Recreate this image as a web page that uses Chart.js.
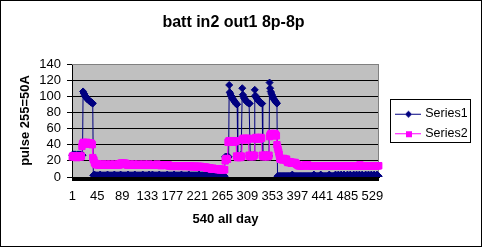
<!DOCTYPE html>
<html>
<head>
<meta charset="utf-8">
<script src="https://cdn.jsdelivr.net/npm/chart.js@4.4.1/dist/chart.umd.min.js"></script>
<style>
  html, body { margin: 0; padding: 0; background: #fff; }
  canvas { display: block; }
</style>
</head>
<body>
<canvas id="chart" width="482" height="247"></canvas>
<script>
// 540 samples over the day
const series1 = [
  // 1-19
  27,28,28,27,27,28,27,27,26,27,28,27,27,28,27,27,28,27,27,
  // 20-37 first pulse
  106,104,103,101,100,99,98,97,96,96,95,94,94,93,93,92,92,91,
  // 38-269 idle
  2,2,3,2,2,2,2,2,2,2,2,2,3,2,2,2,2,2,2,2,
  2,2,2,2,2,3,2,2,2,2,2,2,2,2,2,2,2,3,2,2,
  2,2,2,2,2,2,2,2,3,2,2,2,2,2,2,2,2,2,2,2,
  2,3,2,2,2,2,2,2,2,2,2,2,2,3,2,2,2,2,2,2,
  2,2,2,2,2,2,2,3,2,2,2,2,2,2,2,2,2,2,3,2,
  2,2,2,2,3,2,2,2,2,2,2,2,2,2,2,2,3,2,2,2,
  2,2,2,2,2,2,2,2,2,2,3,2,2,2,2,2,2,2,2,2,
  2,2,3,2,2,2,2,2,2,2,2,2,2,2,2,3,2,2,2,2,
  2,2,2,2,2,2,2,2,3,2,2,2,2,2,2,2,2,2,2,2,
  2,2,2,2,2,2,3,2,2,2,2,2,2,2,2,2,2,2,2,2,
  2,2,2,2,2,2,2,2,2,2,2,2,3,2,2,2,2,2,2,2,
  2,2,2,2,2,1,1,1,1,1,1,1,
  // 270-276
  25,24,25,24,25,24,25,
  // 277-361 evening pulses
  114,105,103,101,100,98,97,96,95,94,93,92,91,90,90,
  27,26,26,25,26,27,26,26,
  110,102,100,98,97,96,95,94,93,93,92,92,91,91,
  26,27,26,25,26,26,27,26,
  108,101,99,98,97,96,95,94,93,93,92,92,91,91,
  27,26,26,27,26,25,26,27,26,26,27,26,
  117,110,106,104,102,100,99,97,96,95,94,93,92,91,
  // 362-540 idle
  1,1,1,1,1,1,1,1,1,1,1,1,1,1,1,1,1,1,1,1,
  1,1,1,1,1,1,3,1,1,1,1,1,1,1,1,1,1,1,1,1,
  1,1,1,1,1,1,1,1,1,1,1,1,1,1,1,1,1,1,1,1,
  1,1,1,1,3,1,1,1,1,1,1,1,1,1,1,1,3,1,1,1,
  1,1,1,1,1,1,1,1,1,1,1,3,1,1,1,1,1,1,1,1,
  1,1,3,1,1,1,1,3,1,1,1,1,3,1,1,1,1,3,1,1,
  1,1,1,3,1,1,1,1,3,1,1,1,1,1,3,1,1,1,1,3,
  1,1,1,1,3,1,1,1,1,3,1,1,1,1,1,3,1,1,1,1,
  3,1,1,1,1,3,1,1,1,1,3,1,1,1,1,3,1,1,1
];

const series2 = [
  // 1-17
  25,26,26,25,25,26,25,25,24,25,26,25,25,26,25,25,26,
  // 18-44
  38,41,
  42,43,42,42,41,42,43,42,41,42,42,41,42,41,42,41,40,
  24,22,21,
  18,17,16,16,15,
  // 45-172
  16,16,15,15,15,16,15,15,15,15,16,15,15,15,15,15,16,15,15,15,
  15,15,15,16,15,15,15,15,15,15,16,15,15,15,15,15,15,16,15,15,
  16,17,17,17,17,16,17,17,17,16,17,16,15,15,15,15,15,15,16,15,
  15,15,15,15,16,15,15,15,15,15,15,15,16,15,15,15,15,15,15,15,
  15,15,16,15,15,15,15,15,15,15,15,16,15,15,15,15,15,15,15,15,
  15,15,15,15,15,16,15,15,15,15,15,15,14,15,15,15,15,15,15,15,
  15,15,15,15,14,15,14,14,
  // 173-240
  14,14,14,14,13,14,14,14,14,14,14,13,14,14,14,14,14,14,14,13,
  14,14,14,14,14,13,14,14,14,13,14,14,14,14,13,14,13,13,13,13,
  13,13,13,13,13,13,13,12,13,13,13,13,12,13,13,12,12,12,12,12,
  12,12,12,12,11,12,11,11,
  // 241-269
  11,11,11,11,10,10,10,11,10,10,10,10,10,10,10,10,9,10,10,9,
  9,9,10,9,9,9,9,9,9,
  // 270-365
  20,22,23,22,22,
  43,44,45,44,44,43,44,45,44,44,43,44,44,45,44,
  26,25,24,25,26,25,24,25,26,25,
  46,47,48,47,46,47,48,47,47,46,47,48,
  27,26,25,26,27,26,25,26,26,27,
  47,48,49,48,48,47,48,49,48,47,48,49,48,
  27,26,25,26,27,26,25,26,27,26,25,26,27,
  50,52,53,54,53,52,51,52,53,54,53,52,51,
  40,37,34,31,28,
  // 366-400
  23,22,22,23,22,21,22,23,22,22,21,22,22,
  19,18,19,18,18,19,18,17,18,18,17,18,17,17,18,17,16,
  16,15,15,14,14,
  // 401-540
  14,14,14,14,14,14,14,14,14,14,15,15,15,15,15,14,14,14,14,14,
  14,14,14,14,14,14,14,14,14,14,14,14,14,14,14,14,14,14,14,14,
  14,14,14,14,14,14,14,14,14,14,14,14,14,14,14,14,14,14,14,14,
  14,14,14,14,14,14,14,14,14,14,14,14,14,14,14,14,14,14,14,14,
  14,14,14,14,14,14,14,14,14,14,14,14,14,14,14,14,14,14,14,14,
  14,14,14,14,14,14,15,14,14,14,14,14,14,14,14,14,14,14,14,14,
  14,14,14,14,14,14,14,14,14,14,14,14,14,14,14,14,14,14,14,14
];

const seriesNames = ["Series1", "Series2"];
const seriesColors = ["#000080", "#ff00ff"];
const xTickLabels = ["1","45","89","133","177","221","265","309","353","397","441","485","529"];
const categories = series1.map((v, i) => String(i + 1));

Chart.defaults.font.family = "'Liberation Sans', Arial, sans-serif";
Chart.defaults.color = "#000";

// legend swatches: short line with the marker in the middle, like excel
function makeSwatch(color, diamond) {
  const c = document.createElement("canvas");
  c.width = 51; c.height = 10;
  const g = c.getContext("2d");
  g.fillStyle = color;
  g.fillRect(18, 5, 26, 1);
  if (diamond) {
    g.beginPath();
    g.moveTo(31.5, 2); g.lineTo(35, 5.5); g.lineTo(31.5, 9); g.lineTo(28, 5.5);
    g.closePath();
    g.fill();
  } else {
    g.fillRect(29, 3, 6, 6);
  }
  return c;
}
const swatches = [makeSwatch(seriesColors[0], true), makeSwatch(seriesColors[1], false)];

const frame = {
  id: "frame",
  beforeDraw(chart) {
    const ctx = chart.ctx, a = chart.chartArea;
    ctx.save();
    ctx.fillStyle = "#fff";
    ctx.fillRect(0, 0, chart.width, chart.height);
    ctx.fillStyle = "#c0c0c0";
    ctx.fillRect(a.left, a.top, a.right - a.left, a.bottom - a.top);
    ctx.restore();
  },
  beforeDatasetsDraw(chart) {
    const ctx = chart.ctx, a = chart.chartArea;
    ctx.save();
    ctx.strokeStyle = "#808080";
    ctx.lineWidth = 1;
    ctx.beginPath();
    ctx.moveTo(a.left, a.top + 0.5);
    ctx.lineTo(a.right - 0.5, a.top + 0.5);
    ctx.lineTo(a.right - 0.5, a.bottom);
    ctx.stroke();
    ctx.restore();
  },
  afterDraw(chart) {
    const ctx = chart.ctx;
    ctx.save();
    ctx.strokeStyle = "#000";
    ctx.lineWidth = 1;
    ctx.strokeRect(0.5, 0.5, chart.width - 1, chart.height - 1);
    ctx.strokeRect(390.5, 99.5, 80, 43);
    ctx.restore();
  }
};

new Chart(document.getElementById("chart"), {
  type: "line",
  data: {
    labels: categories,
    datasets: [
      {
        label: seriesNames[0],
        data: series1,
        order: 2,
        borderColor: seriesColors[0],
        backgroundColor: seriesColors[0],
        borderWidth: 1,
        pointStyle: "rectRot",
        pointRadius: 3.5,
        pointBorderWidth: 1,
        pointBackgroundColor: seriesColors[0],
        pointBorderColor: seriesColors[0],
        tension: 0,
        clip: {left: 4, top: 5, right: 4, bottom: 0}
      },
      {
        label: seriesNames[1],
        data: series2,
        order: 1,
        borderColor: seriesColors[1],
        backgroundColor: seriesColors[1],
        borderWidth: 1,
        pointStyle: "rect",
        pointRadius: 4.5,
        pointBorderWidth: 1,
        pointBackgroundColor: seriesColors[1],
        pointBorderColor: seriesColors[1],
        tension: 0,
        clip: {left: 4, top: 5, right: 4, bottom: 0}
      }
    ]
  },
  options: {
    responsive: false,
    animation: false,
    devicePixelRatio: 1,
    layout: { padding: { left: 0, top: 0, right: 15, bottom: 0 } },
    plugins: {
      title: {
        display: true,
        text: "batt in2 out1 8p-8p",
        color: "#000",
        font: { size: 16, weight: "bold" },
        padding: { top: 13, bottom: 31.8 }
      },
      legend: {
        position: "right",
        maxWidth: 88,
        labels: {
          usePointStyle: true,
          pointStyleWidth: 33,
          padding: 7,
          color: "#000",
          font: { size: 12.5 },
          generateLabels: () => seriesNames.map((name, i) => ({
            text: name,
            pointStyle: swatches[i],
            fillStyle: seriesColors[i],
            strokeStyle: seriesColors[i],
            lineWidth: 0,
            datasetIndex: i,
            hidden: false
          }))
        }
      },
      tooltip: { enabled: false }
    },
    scales: {
      x: {
        type: "category",
        offset: true,
        afterFit: s => { s.height = 70; },
        grid: { display: true, drawOnChartArea: false, drawTicks: true, tickLength: 4, color: "#000", lineWidth: 1 },
        border: { display: true, color: "#000", width: 1 },
        ticks: {
          autoSkip: false,
          maxRotation: 0,
          minRotation: 0,
          padding: 8,
          font: { size: 13 },
          callback: function(value) {
            const lab = this.getLabelForValue(value);
            return xTickLabels.includes(lab) ? lab : "";
          }
        },
        title: {
          display: true,
          text: "540 all day",
          color: "#000",
          font: { size: 13, weight: "bold" },
          padding: { top: 0, bottom: 20 }
        }
      },
      y: {
        min: 0,
        max: 140,
        afterFit: s => { s.width = 72; },
        grid: {
          color: ctx => (ctx.tick && ctx.tick.value === 140) ? "#808080" : "#000",
          tickColor: "#000",
          tickLength: 5,
          lineWidth: 1
        },
        border: { display: true, color: "#000", width: 1 },
        ticks: { stepSize: 20, autoSkip: false, padding: 6, font: { size: 13 } },
        title: {
          display: true,
          text: "pulse 255=50A",
          color: "#000",
          font: { size: 13, weight: "bold" },
          padding: { top: 18, bottom: 0 }
        }
      }
    }
  },
  plugins: [frame]
});
</script>
</body>
</html>
